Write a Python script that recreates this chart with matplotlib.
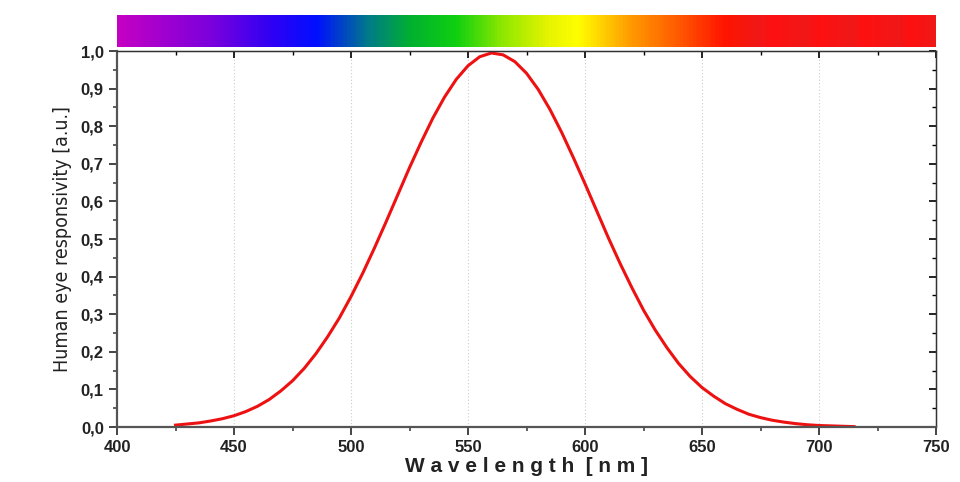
import matplotlib
matplotlib.use("Agg")
import matplotlib.pyplot as plt
import numpy as np
from matplotlib.colors import LinearSegmentedColormap
from matplotlib.ticker import FuncFormatter, MultipleLocator
from matplotlib import font_manager

# photopic response, every 5 nm
wavelength = list(range(425, 720, 5))
response = [0.005, 0.008, 0.011, 0.016, 0.022, 0.030, 0.041, 0.055, 0.073, 0.096,
            0.123, 0.156, 0.195, 0.240, 0.290, 0.347, 0.409, 0.476, 0.546, 0.618,
            0.690, 0.758, 0.822, 0.878, 0.925, 0.961, 0.985, 0.995, 0.990, 0.972,
            0.941, 0.898, 0.845, 0.784, 0.717, 0.647, 0.575, 0.503, 0.435, 0.371,
            0.311, 0.258, 0.211, 0.169, 0.134, 0.105, 0.082, 0.062, 0.047, 0.034,
            0.025, 0.018, 0.013, 0.009, 0.006, 0.004, 0.003, 0.002, 0.001]

# spectrum strip colour stops (with the faint banding in the red end)
stop_nm = [400, 440, 465, 485, 507, 525, 545, 565, 585, 597, 620, 640, 660,
           675, 680, 695, 700, 715, 720, 735, 740, 750]
stop_col = ['#c400c4', '#7a00dc', '#3000f4', '#0010ff', '#007a8a', '#00b030',
            '#10d010', '#90e800', '#e8f400', '#ffff00', '#ff9a00', '#ff5a00',
            '#ff1400', '#f01818', '#ff1010', '#f01818', '#ff1010', '#f01818',
            '#ff1010', '#f01818', '#ff1010', '#f01818']

fig = plt.figure(figsize=(9.6, 4.82), dpi=100)
ax = fig.add_axes([0.1219, 0.1141, 0.8531, 0.7799])
bar = fig.add_axes([0.1219, 0.9025, 0.8531, 0.0664])

pos = [(w - 400) / 350 for w in stop_nm]
cmap = LinearSegmentedColormap.from_list('spec', list(zip(pos, stop_col)))
bar.imshow(np.linspace(0, 1, 700)[None, :], aspect='auto', cmap=cmap,
           extent=[400, 750, 0, 1])
bar.set_axis_off()

ax.plot(wavelength, response, color='#ee1111', lw=2.2)

ax.set_xlim(400, 750)
ax.set_ylim(0, 1.0)
ax.xaxis.set_major_locator(MultipleLocator(50))
ax.xaxis.set_minor_locator(MultipleLocator(25))
ax.yaxis.set_major_locator(MultipleLocator(0.1))
ax.yaxis.set_minor_locator(MultipleLocator(0.05))
ax.yaxis.set_major_formatter(FuncFormatter(lambda v, p: ('%.1f' % v).replace('.', ',')))

for v in range(450, 750, 50):
    ax.axvline(v, color='#cccccc', lw=0.8, ls=(0, (1, 2)), zorder=0)

for s in ['top', 'right']:
    ax.spines[s].set_linewidth(1.0)
    ax.spines[s].set_color('#333333')
for s in ['left', 'bottom']:
    ax.spines[s].set_linewidth(1.6)
    ax.spines[s].set_color('#555555')

ax.tick_params(which='both', direction='out', top=False, right=False)
ax.tick_params(which='major', length=6, width=1.4, color='#444444')
ax.tick_params(which='minor', length=3, width=1.2, color='#444444')

ax2 = ax.secondary_xaxis('top')
ax2.xaxis.set_major_locator(MultipleLocator(50))
ax2.xaxis.set_minor_locator(MultipleLocator(25))
ax2.tick_params(which='both', direction='in', labeltop=False)
ax2.tick_params(which='major', length=5, width=1.2)
ax2.tick_params(which='minor', length=3, width=1.0)
ax3 = ax.secondary_yaxis('right')
ax3.yaxis.set_major_locator(MultipleLocator(0.1))
ax3.yaxis.set_minor_locator(MultipleLocator(0.05))
ax3.tick_params(which='both', direction='in', labelright=False)
ax3.tick_params(which='major', length=5, width=1.2)
ax3.tick_params(which='minor', length=3, width=1.0)

for lab in ax.get_xticklabels() + ax.get_yticklabels():
    lab.set_family('Liberation Sans')
    lab.set_fontweight('bold')
    lab.set_fontsize(12)
    lab.set_color('#222222')

ax.set_xlabel('W a v e l e n g t h  [ n m ]', family='Liberation Sans',
              fontweight='bold', fontsize=15, labelpad=1, color='#222222')

# narrow font for the y label if one is around
names = {f.name for f in font_manager.fontManager.ttflist}
if 'Liberation Sans Narrow' in names:
    ax.set_ylabel('Human eye responsivity [a.u.]', family='Liberation Sans Narrow',
                  fontsize=16, labelpad=6, color='#222222')
else:
    ax.set_ylabel('Human eye responsivity [a.u.]', family='DejaVu Sans',
                  fontstretch='condensed', fontsize=14, labelpad=6, color='#222222')

fig.savefig('out.png', dpi=100)
